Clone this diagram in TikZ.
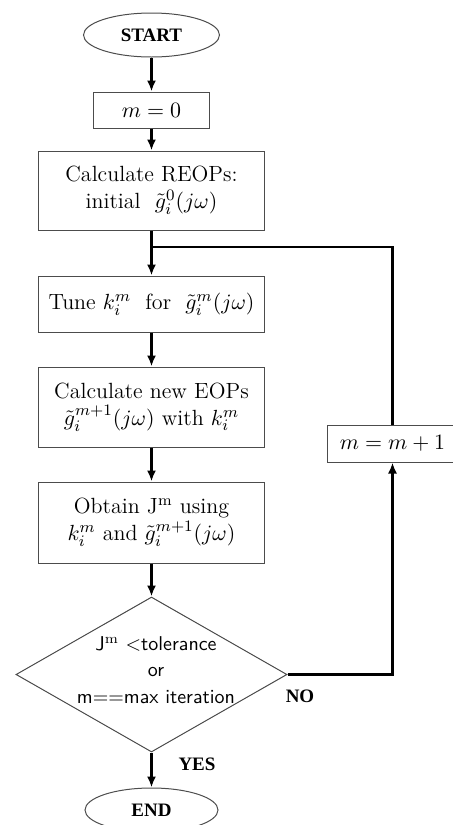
\documentclass[tikz,border=0pt]{standalone}
\usepackage{fontspec}
\newfontfamily\labfont{Liberation Serif}
\usetikzlibrary{shapes.geometric,arrows.meta}
\tikzstyle{term}=[ellipse,draw=black!70,line width=0.5pt,minimum width=68pt,minimum height=22pt,inner sep=0pt,font=\fontsize{9.5}{11}\labfont\bfseries]
\tikzstyle{proc}=[rectangle,draw=black!70,line width=0.5pt,inner sep=0pt,align=center]
\tikzstyle{test}=[diamond,draw=black!70,line width=0.5pt,minimum width=135.5pt,minimum height=77.5pt,inner sep=0pt]
\tikzstyle{flow}=[line width=1.4pt,-{Latex[length=5.5pt,width=4.5pt]}]
\tikzstyle{lab}=[inner sep=0pt,font=\fontsize{9.5}{11}\labfont\bfseries]

\begin{document}
\begin{tikzpicture}[x=0.5pt,y=-0.5pt,font=\fontsize{11}{13.5}\selectfont]
			\useasboundingbox (0,0) rectangle (452,825);
			\node (start) at (151.5,35) [term] {START};
			\node (m0) at (151.5,110) [proc,minimum width=58pt,minimum height=18pt] {$m=0$};
			\foreach \n/\y/\h/\t in {reops/190.5/39.5/{Calculate REOPs:\\ initial~ $\tilde{g}_i^0(j\omega)$},
				tune/304/28/{Tune $k_i^m$~ for~ $\tilde{g}_i^m(j\omega)$},
				eops/407/40/{Calculate new EOPs\\ $\tilde{g}_i^{m+1}(j\omega)$ with $k_i^m$},
				obtain/522.5/40.5/{Obtain J$^{\mathrm{m}}$ using\\ $k_i^m$ and $\tilde{g}_i^{m+1}(j\omega)$}}
			{
				\node (\n) at (151.5,\y) [proc,minimum width=113pt,minimum height=\h pt] {\t};
			}
			\node (cond) at (151.5,674.5) [test] {};
			\node (condtxt) at (156,670) [align=center,inner sep=0pt,font=\fontsize{10}{13.25}\selectfont\sffamily] {J$^{\mathrm{m}}$ <tolerance\\ or\\ m==max iteration};
			\node (stop) at (151.5,810) [term,minimum width=66.5pt] {END};
			\node (m1) at (392.5,443.5) [proc,minimum width=65.5pt,minimum height=18.5pt] {$m=m+1$};
			\node (no) at (300,696) [lab] {NO};
			\node (yes) at (197,764) [lab] {YES};
			\coordinate (junc) at (151.5,247);
			
			\foreach \a/\b in {start/m0,m0/reops,reops/tune,tune/eops,eops/obtain,obtain/cond,cond/stop}
			\draw[flow] (\a) -- (\b);
			
			\draw[flow] (cond.east) -| (m1.south);
			\draw[line width=1.4pt] (m1.north) |- (junc);
		\end{tikzpicture}
\end{document}
